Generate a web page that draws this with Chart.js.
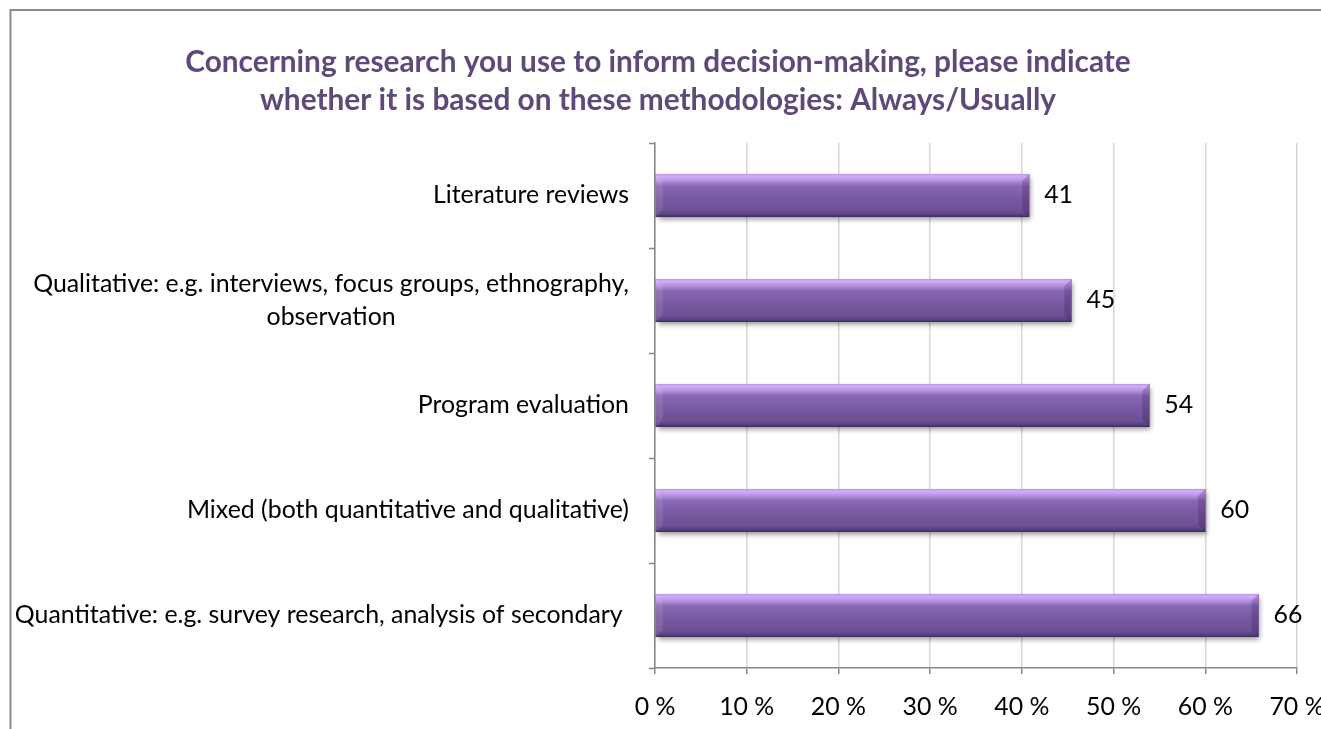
<!DOCTYPE html>
<html>
<head>
<meta charset="utf-8">
<script src="https://cdn.jsdelivr.net/npm/chart.js@4/dist/chart.umd.min.js"></script>
<style>
html,body{margin:0;padding:0;background:#fff;overflow:hidden}
#wrap{position:absolute;left:0;top:0;width:1321px;height:729px}
</style>
</head>
<body>
<div id="wrap"><canvas id="c" width="1321" height="729"></canvas></div>
<script>
// ---------- data ----------
const titleLines = [
  "Concerning research you use to inform decision-making, please indicate",
  "whether it is based on these methodologies: Always/Usually"
];
const categories = [
  ["Literature reviews"],
  ["Qualitative: e.g. interviews, focus groups, ethnography,", "observation"],
  ["Program evaluation"],
  ["Mixed (both quantitative and qualitative)"],
  ["Quantitative: e.g. survey research, analysis of secondary "]
];
const values = [40.8, 45.4, 53.9, 60.0, 65.8];
const xTickValues = [0, 10, 20, 30, 40, 50, 60, 70];

// ---------- font fitting ----------
const FAMILY = "Lato";
const mctx = document.createElement("canvas").getContext("2d");
function fit(weight, text, target) {
  mctx.font = weight + " 100px " + FAMILY;
  return 100 * target / mctx.measureText(text).width;
}
const labelSize = fit("normal", categories[1][0], 596);
const titleSize = fit("bold", titleLines[0], 946);

const AXIS = "#878787";
const GRID = "#D6D6D6";

// ---------- plugins ----------
const frame = {
  id: "frame",
  beforeDraw(chart) {
    const ctx = chart.ctx;
    ctx.save();
    ctx.strokeStyle = "#8A8A8A";
    ctx.lineWidth = 2;
    ctx.beginPath();
    ctx.moveTo(10.5, 729);
    ctx.lineTo(10.5, 10);
    ctx.lineTo(1321, 10);
    ctx.stroke();
    // title
    ctx.fillStyle = "#5F497A";
    ctx.font = "bold " + titleSize + "px " + FAMILY;
    ctx.textAlign = "center";
    ctx.textBaseline = "alphabetic";
    ctx.fillText(titleLines[0], 658, 72);
    ctx.fillText(titleLines[1], 658, 110);
    ctx.restore();
  }
};

const barStyle = {
  id: "barStyle",
  beforeDatasetsDraw(chart) {
    const ctx = chart.ctx;
    chart.getDatasetMeta(0).data.forEach(el => {
      const t = el.y - el.height / 2, b = el.y + el.height / 2;
      const l = Math.min(el.base, el.x), r = Math.max(el.base, el.x);
      ctx.save();
      ctx.shadowColor = "rgba(0,0,0,0.40)";
      ctx.shadowBlur = 5;
      ctx.shadowOffsetX = 2;
      ctx.shadowOffsetY = 3;
      ctx.fillStyle = "#5a4480";
      ctx.fillRect(l, t, r - l, b - t);
      ctx.restore();
    });
  },
  afterDatasetsDraw(chart) {
    const ctx = chart.ctx;
    const ds = chart.data.datasets[0];
    chart.getDatasetMeta(0).data.forEach((el, i) => {
      const t = el.y - el.height / 2, b = el.y + el.height / 2;
      const l = Math.min(el.base, el.x), r = Math.max(el.base, el.x);
      const h = b - t;
      ctx.save();
      const g = ctx.createLinearGradient(0, t, 0, b);
      g.addColorStop(0, "#B896E0");
      g.addColorStop(0.05, "#D2AEFA");
      g.addColorStop(0.15, "#B893E2");
      g.addColorStop(0.28, "#8867B3");
      g.addColorStop(0.55, "#7A5AA2");
      g.addColorStop(0.85, "#6C4F95");
      g.addColorStop(0.94, "#5A4280");
      g.addColorStop(1, "#3D2C57");
      ctx.fillStyle = g;
      ctx.fillRect(l, t, r - l, h);
      const bv = Math.min(7, h / 4);
      ctx.fillStyle = "rgba(255,255,255,0.10)";
      ctx.beginPath();
      ctx.moveTo(l, t); ctx.lineTo(l + bv, t + bv); ctx.lineTo(l + bv, b - bv); ctx.lineTo(l, b);
      ctx.closePath(); ctx.fill();
      ctx.fillStyle = "rgba(40,20,70,0.22)";
      ctx.beginPath();
      ctx.moveTo(r, t); ctx.lineTo(r - bv, t + bv); ctx.lineTo(r - bv, b - bv); ctx.lineTo(r, b);
      ctx.closePath(); ctx.fill();
      // value label
      ctx.fillStyle = "#000";
      ctx.font = labelSize + "px " + FAMILY;
      ctx.textAlign = "left";
      ctx.textBaseline = "alphabetic";
      ctx.fillText(String(Math.round(ds.data[i])), r + 15, el.y + 0.31 * labelSize);
      ctx.restore();
    });
  },
  afterDraw(chart) {
    // category labels (right-aligned block, lines centred within block)
    const ctx = chart.ctx;
    const ys = chart.scales.y;
    ctx.save();
    ctx.fillStyle = "#000";
    ctx.font = labelSize + "px " + FAMILY;
    ctx.textBaseline = "alphabetic";
    const right = 629, lh = 33;
    categories.forEach((lines, i) => {
      const cy = ys.getPixelForValue(i);
      const widths = lines.map(s => ctx.measureText(s).width);
      const w = Math.max(...widths);
      const cx = right - w / 2;
      const base0 = cy + 0.31 * labelSize - (lines.length - 1) * lh / 2;
      lines.forEach((s, k) => {
        ctx.textAlign = "center";
        ctx.fillText(s, cx, base0 + k * lh);
      });
    });
    ctx.restore();
  }
};

new Chart(document.getElementById("c"), {
  type: "bar",
  data: {
    labels: categories.map(c => c.join(" ")),
    datasets: [{
      data: values,
      backgroundColor: "#7A5AA2",
      borderWidth: 0,
      categoryPercentage: 0.41,
      barPercentage: 1
    }]
  },
  options: {
    indexAxis: "y",
    responsive: false,
    animation: false,
    devicePixelRatio: 1,
    layout: { padding: { left: 0, right: 24, top: 143, bottom: 0 } },
    plugins: { legend: { display: false }, title: { display: false }, tooltip: { enabled: false } },
    scales: {
      x: {
        type: "linear",
        min: 0, max: 70,
        afterBuildTicks(s) { s.ticks = xTickValues.map(v => ({ value: v })); },
        ticks: {
          callback: v => v + " %",
          color: "#000",
          font: { family: FAMILY, size: labelSize },
          padding: 18,
          maxRotation: 0,
          autoSkip: false
        },
        grid: { color: GRID, lineWidth: 1.5, tickLength: 6, tickColor: AXIS, tickWidth: 1.5, drawOnChartArea: true },
        border: { color: AXIS, width: 1.5 },
        afterFit(s) { s.height = 61; s.paddingLeft = 0; s.paddingRight = 0; }
      },
      y: {
        ticks: { display: false },
        grid: { drawOnChartArea: false, tickLength: 6, tickColor: AXIS, tickWidth: 1.5, offset: true },
        border: { color: AXIS, width: 1.5 },
        afterFit(s) { s.width = 655; s.paddingTop = 0; s.paddingBottom = 0; }
      }
    }
  },
  plugins: [frame, barStyle]
});
</script>
</body>
</html>
